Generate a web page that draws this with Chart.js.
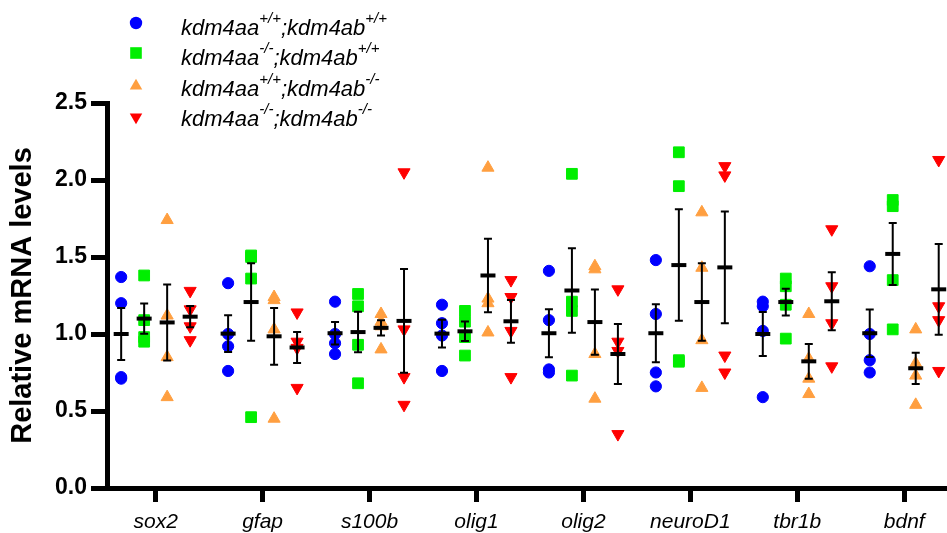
<!DOCTYPE html>
<html><head><meta charset="utf-8">
<style>html,body{margin:0;padding:0;background:#fff;}#wrap{width:947px;height:533px;position:relative;}</style>
<script src="https://cdn.jsdelivr.net/npm/chart.js@4.4.0/dist/chart.umd.min.js"></script>
</head><body><div id="wrap"><canvas id="c" width="947" height="533"></canvas></div>
<script>
// ---- data ----
const genes = ['sox2','gfap','s100b','olig1','olig2','neuroD1','tbr1b','bdnf'];
const yTickLabels = ['0.0','0.5','1.0','1.5','2.0','2.5'];
// kdm4aa+/+;kdm4ab+/+
const wtWt = [[1.37,1.20,0.72,0.71],[1.33,1.00,0.92,0.76],[1.21,1.00,0.94,0.87],[1.19,1.07,0.99,0.76],
              [1.41,1.09,0.77,0.75],[1.48,1.13,0.75,0.66],[1.21,1.18,1.02,0.59],[1.44,1.00,0.83,0.75]];
// kdm4aa-/-;kdm4ab+/+
const koWt = [[1.38,1.09,0.98,0.95],[1.51,1.50,1.36,0.46],[1.26,1.18,0.93,0.68],[1.15,1.08,0.98,0.86],
              [2.04,1.21,1.15,0.73],[2.18,1.96,0.83,0.82],[1.36,1.31,1.19,0.97],[1.87,1.83,1.35,1.03]];
// kdm4aa+/+;kdm4ab-/-
const wtKo = [[1.74,1.12,0.85,0.59],[1.24,1.22,1.03,0.45],[1.13,1.08,1.05,0.90],[2.08,1.23,1.20,1.01],
              [1.44,1.42,0.87,0.58],[1.79,1.43,0.96,0.65],[1.13,0.84,0.71,0.61],[1.03,0.81,0.73,0.54]];
// kdm4aa-/-;kdm4ab-/-
const koKo = [[1.28,1.16,1.05,0.96],[1.14,0.95,0.91,0.65],[2.05,1.03,0.72,0.54],[1.35,1.24,1.02,0.72],
              [1.29,0.95,0.89,0.35],[2.09,2.03,0.86,0.75],[1.68,1.31,1.07,0.79],[2.13,1.18,1.09,0.76]];
const supA = ['+/+','-/-','+/+','-/-'];
const supB = ['+/+','+/+','-/-','-/-'];

// ---- styling ----
const groups = [
  {vals: wtWt, color:'#0000FF', style:'circle',   radius:5.6, rot:0},
  {vals: koWt, color:'#00EE00', style:'rect',     radius:7.6, rot:0},
  {vals: wtKo, color:'#FF9F40', style:'triangle', radius:7.0, rot:0},
  {vals: koKo, color:'#FF0000', style:'triangle', radius:7.0, rot:180}
];
const groupSpacing = 0.215;
const offsets = [-1.5,-0.5,0.5,1.5].map(o => o*groupSpacing);

const datasets = groups.map((g,k) => ({
  data: g.vals.flatMap((arr,i) => arr.map(v => ({x: i + offsets[k], y: v}))),
  backgroundColor: g.color, borderColor: g.color, borderWidth: 1,
  pointStyle: g.style, pointRadius: g.radius, pointRotation: g.rot,
  pointHoverRadius: g.radius, clip: false
}));

const errPlugin = {
  id: 'err',
  afterDatasetsDraw(chart) {
    const {ctx, scales:{x, y}} = chart;
    ctx.save();
    ctx.strokeStyle = '#000';
    groups.forEach((g,k) => {
      g.vals.forEach((arr,i) => {
        const n = arr.length;
        const m = arr.reduce((a,b)=>a+b,0)/n;
        const sd = Math.sqrt(arr.reduce((a,b)=>a+(b-m)*(b-m),0)/(n-1));
        const sem = sd/Math.sqrt(n);
        const px = x.getPixelForValue(i + offsets[k]);
        const pm = y.getPixelForValue(m), pt = y.getPixelForValue(m+sem), pb = y.getPixelForValue(m-sem);
        ctx.lineWidth = 2;
        ctx.beginPath();
        ctx.moveTo(px, pt); ctx.lineTo(px, pb);
        ctx.moveTo(px-4, pt); ctx.lineTo(px+4, pt);
        ctx.moveTo(px-4, pb); ctx.lineTo(px+4, pb);
        ctx.stroke();
        ctx.lineWidth = 4;
        ctx.beginPath();
        ctx.moveTo(px-7.5, pm); ctx.lineTo(px+7.5, pm);
        ctx.stroke();
      });
    });
    ctx.restore();
  }
};

const legendPlugin = {
  id: 'customLegend',
  afterDraw(chart) {
    const ctx = chart.ctx;
    const markerY = [23, 53, 86, 117];
    const baseY = [35, 65, 96, 126];
    ctx.save();
    groups.forEach((g,k) => {
      const mx = 136, my = markerY[k];
      ctx.fillStyle = g.color;
      ctx.beginPath();
      if (g.style === 'circle') {
        ctx.arc(mx, my, 6.2, 0, Math.PI*2);
      } else if (g.style === 'rect') {
        ctx.rect(mx-5.8, my-5.8, 11.6, 11.6);
      } else {
        const r = 7.2, s = g.rot ? -1 : 1;
        ctx.moveTo(mx, my - s*r);
        ctx.lineTo(mx + r*0.866, my + s*r*0.5);
        ctx.lineTo(mx - r*0.866, my + s*r*0.5);
        ctx.closePath();
      }
      ctx.fill();
      ctx.fillStyle = '#000';
      ctx.textBaseline = 'alphabetic';
      ctx.textAlign = 'left';
      let tx = 181;
      const by = baseY[k];
      ctx.font = 'italic 22px "Liberation Sans", Arial, sans-serif';
      ctx.fillText('kdm4aa', tx, by); tx += ctx.measureText('kdm4aa').width;
      ctx.font = 'italic 15px "Liberation Sans", Arial, sans-serif';
      ctx.fillText(supA[k], tx, by - 12); tx += ctx.measureText(supA[k]).width;
      ctx.font = 'italic 22px "Liberation Sans", Arial, sans-serif';
      ctx.fillText(';kdm4ab', tx, by); tx += ctx.measureText(';kdm4ab').width;
      ctx.font = 'italic 15px "Liberation Sans", Arial, sans-serif';
      ctx.fillText(supB[k], tx, by - 12);
    });
    ctx.restore();
  }
};

new Chart(document.getElementById('c').getContext('2d'), {
  type: 'scatter',
  data: {datasets},
  options: {
    responsive: false, animation: false, devicePixelRatio: 1,
    layout: {autoPadding: false, padding: {left: 0, right: 0, top: 103, bottom: 0}},
    plugins: {legend: {display: false}, tooltip: {enabled: false}},
    scales: {
      x: {
        type: 'linear', min: -0.455, max: 7.40,
        afterBuildTicks: s => { s.ticks = genes.map((g,i) => ({value: i})); },
        afterFit: s => { s.height = 45; s.paddingLeft = 0; s.paddingRight = 0; },
        ticks: {
          callback: (v, i) => genes[i], autoSkip: false, maxRotation: 0,
          font: {family: '"Liberation Sans", Arial, sans-serif', style: 'italic', size: 21},
          color: '#000', padding: 8
        },
        grid: {display: true, drawOnChartArea: false, drawTicks: true, tickLength: 14, color: '#000', lineWidth: 5},
        border: {display: true, color: '#000', width: 5}
      },
      y: {
        min: 0, max: 2.5,
        afterBuildTicks: s => { s.ticks = yTickLabels.map(t => ({value: parseFloat(t)})); },
        afterFit: s => { s.width = 107; },
        ticks: {
          callback: (v, i) => yTickLabels[i],
          font: {family: '"Liberation Sans", Arial, sans-serif', weight: 'bold', size: 23},
          color: '#000', padding: 4
        },
        grid: {display: true, drawOnChartArea: false, drawTicks: true, tickLength: 16, color: '#000', lineWidth: 5},
        border: {display: true, color: '#000', width: 5},
        title: {
          display: true, text: 'Relative mRNA levels', color: '#000',
          font: {family: '"Liberation Sans", Arial, sans-serif', weight: 'bold', size: 29},
          padding: {top: 6, bottom: 0}
        }
      }
    }
  },
  plugins: [errPlugin, legendPlugin]
});
</script></body></html>
